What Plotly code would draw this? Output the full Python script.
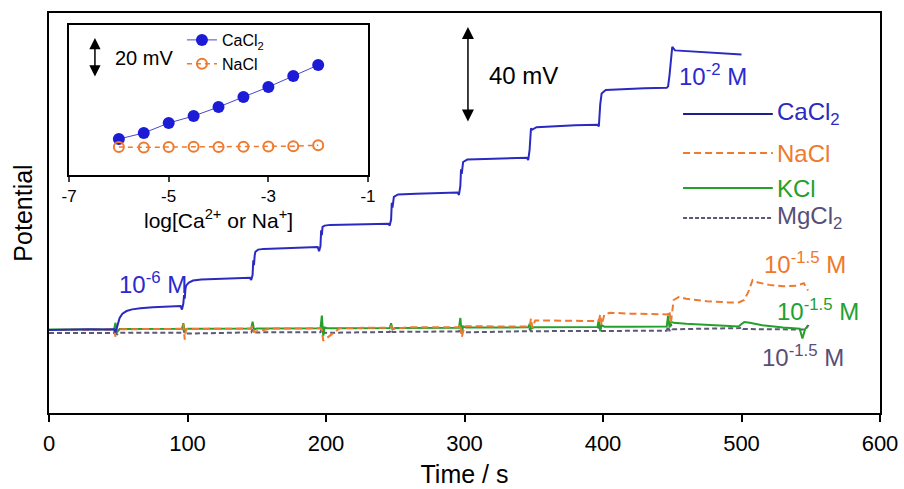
import plotly.graph_objects as go

# ---------------- main time-trace data (potential in mV, relative) ----------------
ca_t = [0, 10, 20, 30, 40, 47, 48, 49.5, 51, 53, 56, 60, 66, 75, 85, 95,
        96, 97, 97.5, 98, 98.5, 99, 101, 104, 110, 120, 135, 145,
        146, 147, 147.5, 148, 148.5, 149, 151, 155, 165, 180, 194,
        195, 196, 196.5, 197, 197.5, 199, 203, 215, 230, 245,
        246, 247, 247.5, 248, 249, 252, 265, 280, 295,
        296, 297, 297.5, 298, 299, 302, 315, 330, 345,
        346, 347, 348, 349, 352, 365, 380, 396,
        397, 398, 399, 402, 415, 430, 446,
        447, 448, 449, 450, 452, 460, 480, 500]
ca_v = [0, 0.2, 0.1, 0.3, 0.2, 0.3, -1.0, 2.5, 5.0, 6.8, 7.9, 8.6, 9.1, 9.5, 9.8, 10.0,
        8.5, 11.0, 14.5, 13.0, 17.0, 18.5, 19.8, 20.6, 21.0, 21.3, 21.6, 21.8,
        20.8, 23.0, 29.0, 27.0, 31.0, 32.6, 33.5, 33.8, 34.0, 34.3, 34.6,
        32.8, 35.0, 41.5, 39.5, 43.0, 43.5, 43.8, 44.0, 44.2, 44.3,
        43.5, 46.0, 53.0, 51.0, 55.5, 56.5, 56.8, 57.1, 57.3,
        56.3, 60.0, 67.0, 65.0, 70.0, 71.0, 71.3, 71.6, 71.8,
        70.8, 75.0, 84.0, 83.5, 84.5, 85.0, 85.3, 85.5,
        84.8, 94.0, 98.5, 100.0, 100.4, 100.7, 100.9,
        101.5, 106.0, 112.0, 118.0, 116.5, 116.2, 115.4, 114.8]

na_t = [0, 20, 40, 47, 48, 49, 50, 60, 80, 96, 97, 98, 99, 110, 130, 146, 147, 148,
        160, 180, 196, 197, 198, 210, 230, 246, 247, 248, 260, 280, 296, 297, 298,
        300, 320, 340, 347, 348, 349, 351, 370, 390, 397, 398, 399, 401, 405, 420,
        440, 447, 448, 449, 451, 455, 460, 475, 490, 498, 502, 505, 508, 512, 520,
        530, 540, 545, 548]
na_v = [0, 0.1, 0.2, 0.2, -2.8, 1.5, 0.3, 0.4, 0.5, 0.5, 2.5, -4.0, 0.4, 0.5, 0.6, 0.6, 1.8, -0.8,
        0.6, 0.7, 0.7, 0.2, -4.5, 0.8, 0.9, 1.0, 1.5, 0.5, 1.1, 1.2, 1.2, 2.5, -3.0,
        1.6, 1.5, 1.4, 1.4, 4.8, 0.8, 4.0, 3.8, 3.7, 3.7, 6.5, 2.0, 6.5, 7.2, 6.8,
        6.5, 6.5, 8.0, 3.0, 12.5, 13.8, 13.0, 12.0, 11.5, 11.5, 12.5, 16.0, 20.8, 19.8, 18.8,
        18.2, 18.5, 19.5, 16.5]

k_t = [0, 20, 40, 47, 48, 49, 51, 70, 96, 97, 98, 100, 120, 146, 147, 148, 150, 170,
       196, 197, 198, 199, 201, 220, 246, 247, 248, 250, 270, 296, 297, 298, 299, 301,
       320, 346, 347, 348, 350, 370, 396, 397, 398, 399, 401, 420, 446, 447, 448, 449,
       451, 460, 480, 498, 500, 502, 506, 515, 530, 542, 544, 546, 548]
k_v = [0.2, 0.3, 0.3, 0.3, 3.0, -1.0, 0.4, 0.4, 0.5, 2.8, -0.5, 0.5, 0.5, 0.6, 3.5, 0.2, 0.6, 0.6,
       0.7, 6.0, -2.5, 1.0, 0.7, 0.7, 0.8, 2.8, 0.3, 0.8, 0.9, 0.9, 5.0, -1.5, 1.5, 1.0,
       1.0, 1.1, 2.5, 0.5, 1.1, 1.2, 1.2, 4.5, -0.5, 2.0, 1.4, 1.4, 1.5, 6.0, 1.0, 3.5,
       3.0, 2.6, 2.0, 1.5, 2.5, 3.3, 3.0, 2.0, 1.0, 0.5, -3.5, 0.5, 1.5]

mg_t = [0, 47, 48, 49, 50, 96, 97, 98, 146, 147, 148, 196, 197, 198, 246, 247, 248,
        296, 297, 298, 346, 347, 348, 396, 397, 398, 399, 446, 447, 448, 449, 450,
        470, 498, 499, 500, 501, 520, 546, 547, 548, 549]
mg_v = [-1.3, -1.2, 0.5, -2.0, -1.2, -1.1, 0.3, -1.5, -1.0, 0.2, -1.0, -0.9, 0.5, -1.2,
        -0.8, 0.2, -0.8, -0.6, 0.8, -1.0, -0.5, 0.3, -0.5, -0.4, 1.5, -0.5, -0.4, -0.3,
        1.5, -0.5, 2.5, 0.3, 0.5, 0.5, 0.8, 1.2, 0.4, 0.3, 0.2, 1.0, 2.0, 0.3]

# ---------------- inset calibration data ----------------
log_conc = [-6, -5.5, -5, -4.5, -4, -3.5, -3, -2.5, -2]
ca_cal = [4.0, 7.0, 12.0, 15.5, 20.0, 25.0, 30.0, 35.5, 41.0]
na_cal = [0.0, -0.2, 0.0, 0.1, 0.0, 0.1, 0.3, 0.4, 0.9]

x_ticks = [0, 100, 200, 300, 400, 500, 600]
inset_ticks = [-7, -5, -3, -1]
inset_ticklabels = ["-7", "-5", "-3", "-1"]

C_CA = "#2a2ac0"
C_NA = "#ee7a30"
C_K = "#25a02a"
C_MG = "#5c5878"
FONT = "Liberation Sans, Arial, sans-serif"

fig = go.Figure()

fig.add_trace(go.Scatter(x=mg_t, y=mg_v, mode="lines", showlegend=False,
                         line=dict(color=C_MG, width=2, dash="5px,3px")))
fig.add_trace(go.Scatter(x=k_t, y=k_v, mode="lines", showlegend=False,
                         line=dict(color=C_K, width=2)))
fig.add_trace(go.Scatter(x=na_t, y=na_v, mode="lines", showlegend=False,
                         line=dict(color=C_NA, width=2, dash="7px,4px")))
fig.add_trace(go.Scatter(x=ca_t, y=ca_v, mode="lines", showlegend=False,
                         line=dict(color=C_CA, width=2)))

# inset
fig.add_trace(go.Scatter(x=log_conc, y=ca_cal, mode="lines+markers", name="CaCl<sub>2</sub>",
                         xaxis="x2", yaxis="y2", legend="legend2",
                         line=dict(color="#4848c8", width=1),
                         marker=dict(color="#1c1cd6", size=12)))
fig.add_trace(go.Scatter(x=log_conc, y=na_cal, mode="lines+markers", name="NaCl",
                         xaxis="x2", yaxis="y2", legend="legend2",
                         line=dict(color=C_NA, width=1.5, dash="5px,4px"),
                         marker=dict(color=C_NA, size=10, symbol="circle-open",
                                     line=dict(width=2, color=C_NA))))

fig.update_layout(
    width=904, height=489,
    margin=dict(l=49, r=24, t=13, b=76),
    paper_bgcolor="white", plot_bgcolor="white",
    font=dict(family=FONT, color="black"),
    xaxis=dict(range=[0, 600], tickvals=x_ticks, showgrid=False, zeroline=False,
               showline=True, mirror=True, linecolor="black", linewidth=2,
               ticks="outside", ticklen=7, tickwidth=1.5, tickcolor="black",
               ticklabelstandoff=3, automargin=False,
               tickfont=dict(size=22), title=dict(text="Time / s", font=dict(size=25), standoff=10)),
    yaxis=dict(range=[-34.58, 132.08], showgrid=False, zeroline=False, showticklabels=False,
               showline=True, mirror=True, linecolor="black", linewidth=1.5, ticks="",
               automargin=False,
               title=dict(text="Potential", font=dict(size=25), standoff=8)),
    xaxis2=dict(domain=[0.0241, 0.3839], anchor="y2", range=[-7, -1],
                tickvals=inset_ticks, ticktext=inset_ticklabels,
                showgrid=False, zeroline=False, showline=True, mirror=True,
                linecolor="black", linewidth=2, ticks="outside", ticklen=5, tickwidth=1.5,
                tickfont=dict(size=17), automargin=False,
                title=dict(text="log[Ca<sup>2+</sup> or Na<sup>+</sup>]", font=dict(size=21), standoff=6)),
    yaxis2=dict(domain=[0.595, 0.97], anchor="x2", range=[-14, 61], showgrid=False,
                zeroline=False, showticklabels=False, ticks="", showline=True, mirror=True,
                linecolor="black", linewidth=2, automargin=False),
    legend2=dict(x=0.16, y=0.975, xanchor="left", yanchor="top", bgcolor="rgba(0,0,0,0)",
                 font=dict(size=16, color="black"), tracegroupgap=0, itemwidth=30),
)

# main legend (manual, long line samples with coloured labels)
leg = [("CaCl<sub>2</sub>", C_CA, "#1e1e8c", "solid", 0.7475),
       ("NaCl", C_NA, C_NA, "7px,4px", 0.65),
       ("KCl", C_K, C_K, "solid", 0.5625),
       ("MgCl<sub>2</sub>", "#574f78", C_MG, "4px,2px", 0.4875)]
for text, tcol, lcol, dash, yp in leg:
    fig.add_shape(type="line", xref="paper", yref="paper", x0=0.763, x1=0.871, y0=yp, y1=yp,
                  line=dict(color=lcol, width=2, dash=dash))
    fig.add_annotation(xref="paper", yref="paper", x=0.874, y=yp, xanchor="left", yanchor="middle",
                       text=text, showarrow=False, font=dict(size=24, color=tcol))

# concentration labels
labels = [("10<sup>-6</sup> M", "#2a2ad0", 0.0818, 0.325),
          ("10<sup>-2</sup> M", "#2a2ad0", 0.7557, 0.845),
          ("10<sup>-1.5</sup> M", "#f07828", 0.858, 0.375),
          ("10<sup>-1.5</sup> M", "#22a030", 0.8736, 0.2575),
          ("10<sup>-1.5</sup> M", "#574f78", 0.8556, 0.1425)]
for text, col, xp, yp in labels:
    fig.add_annotation(xref="paper", yref="paper", x=xp, y=yp, xanchor="left", yanchor="middle",
                       text=text, showarrow=False, font=dict(size=24, color=col))

# 40 mV scale arrow (main axes)
fig.add_annotation(x=302.5, y=126.25, ax=302.5, ay=86.25, xref="x", yref="y", axref="x", ayref="y",
                   text="", showarrow=True, arrowhead=2, startarrowhead=2, arrowside="end+start",
                   arrowsize=1.6, arrowwidth=1.5, arrowcolor="black")
fig.add_annotation(xref="paper", yref="paper", x=0.527, y=0.845, xanchor="left", yanchor="middle",
                   text="40 mV", showarrow=False, font=dict(size=24, color="black"))

# 20 mV scale arrow (inset axes)
fig.add_annotation(x=-6.48, y=54.5, ax=-6.48, ay=34.5, xref="x2", yref="y2", axref="x2", ayref="y2",
                   text="", showarrow=True, arrowhead=2, startarrowhead=2, arrowside="end+start",
                   arrowsize=1.5, arrowwidth=1.5, arrowcolor="black")
fig.add_annotation(xref="paper", yref="paper", x=0.077, y=0.8875, xanchor="left", yanchor="middle",
                   text="20 mV", showarrow=False, font=dict(size=20, color="black"))

fig.write_html("out.html")
